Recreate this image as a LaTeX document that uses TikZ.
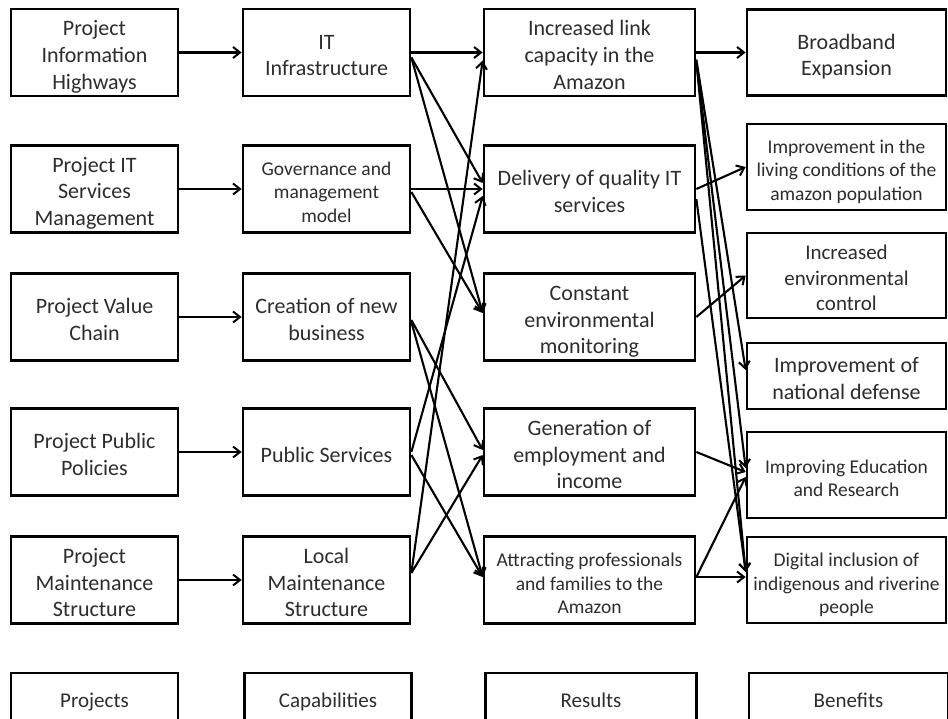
\documentclass[tikz,border=0pt]{standalone}
\usepackage{fontspec}
\setmainfont{Carlito}
\usetikzlibrary{arrows.meta,calc}
\definecolor{txt}{RGB}{45,45,45}
\newcommand\fbig{\fontsize{22}{26.7}\selectfont}
\newcommand\fsmall{\fontsize{19.5}{23.5}\selectfont}
\newcommand\up{\rule{0pt}{25pt}}
\newcommand\uplab{\rule{0pt}{19pt}}
\begin{document}
\begin{tikzpicture}[x=1pt,y=-1pt,
  box/.style={draw=black, line width=2.7pt, fill=white, rectangle, align=center,
    inner sep=0pt, text=txt, font=\fbig, text depth=5pt},
  c1/.style={box, minimum width=167pt, minimum height=87pt},
  c3/.style={box, minimum width=211pt, minimum height=87pt},
  c4/.style={box, minimum width=199pt, minimum height=86pt},
  sm/.style={font=\fsmall},
  lab/.style={minimum height=54pt, font=\fontsize{21}{25}\selectfont},
  arr/.style={draw=black, line width=2.1pt, -{Straight Barb[length=7pt,width=11pt,line width=2pt]}}
]
\useasboundingbox (0,0) rectangle (948,719);
\clip (0,0) rectangle (948,719);
\fill[white] (0,0) rectangle (948,719);

% Projects
\node[c1] (p1) at (94.5,52.5) {\up Project\\Information\\Highways};
\node[c1] (p2) at (94.5,189) {\up Project IT\\Services\\Management};
\node[c1] (p3) at (94.5,317) {\up Project Value\\Chain};
\node[c1] (p4) at (94.5,452) {\up Project Public\\Policies};
\node[c1] (p5) at (94.5,580) {\up Project\\Maintenance\\Structure};

% Capabilities
\node[c1] (it)  at (326.5,52.5) {\up IT\\Infrastructure};
\node[c1,sm] (gov) at (326.5,189) {\up Governance and\\management\\model};
\node[c1] (cre) at (326.5,317) {\up Creation of new\\business};
\node[c1] (ps)  at (326.5,452) {\up Public Services};
\node[c1] (lm)  at (326.5,580) {\up Local\\Maintenance\\Structure};

% Results
\node[c3] (il)  at (589.5,52.5) {\up Increased link\\capacity in the\\Amazon};
\node[c3] (del) at (589.5,189) {\up Delivery of quality IT\\services};
\node[c3] (cem) at (589.5,317) {\up Constant\\environmental\\monitoring};
\node[c3] (gen) at (589.5,452) {\up Generation of\\employment and\\income};
\node[c3,sm] (att) at (589.5,580) {\up Attracting professionals\\and families to the\\Amazon};

% Benefits
\node[c4] (bb)  at (846.5,52.5) {\up Broadband\\Expansion};
\node[c4,sm] (liv) at (846.5,167) {\up Improvement in the\\living conditions of the\\amazon population};
\node[c4,minimum height=85pt,font=\fontsize{21}{25.5}\selectfont] (env) at (846.5,275.5) {\up Increased\\environmental\\control};
\node[c4,minimum height=66pt] (nd)  at (846.5,376) {\up Improvement of\\national defense};
\node[c4,sm] (edu) at (846.5,475) {\up Improving Education\\and Research};
\node[c4,sm] (dig) at (846.5,580) {\up Digital inclusion of\\indigenous and riverine\\people};

% Column labels
\node[c1,lab] (lp) at (94.5,700) {\uplab Projects};
\node[c1,lab] (lc) at (328,700) {\uplab Capabilities};
\node[c3,lab] (lr) at (591,700) {\uplab Results};
\node[c4,lab] (lb) at (848.5,700) {\uplab Benefits};

% Projects -> Capabilities
\draw[arr] (p1.east) -- (it.west);
\draw[arr] (p2.east) -- (gov.west);
\draw[arr] (p3.east) -- (cre.west);
\draw[arr] (p4.east) -- (ps.west);
\draw[arr] (p5.east) -- (lm.west);

% Capabilities -> Results
\draw[arr] (it.east) -- (il.west);
\draw[arr] ($(it.east)+(0,5)$) -- ($(del.west)+(0,-6)$);
\draw[arr] ($(it.east)+(0,5)$) -- ($(cem.west)+(0,-4)$);
\draw[arr] (gov.east) -- (del.west);
\draw[arr] ($(gov.east)+(0,3)$) -- ($(cem.west)+(0,-4)$);
\draw[arr] ($(cre.east)+(0,3)$) -- ($(gen.west)+(0,-2)$);
\draw[arr] ($(cre.east)+(0,5)$) -- ($(att.west)+(0,-3)$);
\draw[arr] (ps.east) -- ($(del.west)+(0,7)$);
\draw[arr] ($(ps.east)+(0,3)$) -- ($(att.west)+(0,-3)$);
\draw[arr] ($(lm.east)+(0,-7)$) -- ($(il.west)+(0,8)$);
\draw[arr] ($(lm.east)+(0,-7)$) -- ($(gen.west)+(0,3)$);

% Results -> Benefits
\draw[arr] (il.east) -- (bb.west);
\draw[arr] ($(il.east)+(0,7)$) -- ($(nd.west)+(0,-6)$);
\draw[arr] ($(il.east)+(0,9)$) -- ($(edu.west)+(0,-7)$);
\draw[arr] ($(il.east)+(0,9)$) -- ($(dig.west)+(0,-8)$);
\draw[arr] (del.east) -- (liv.west);
\draw[arr] ($(del.east)+(0,10)$) -- ($(dig.west)+(0,-8)$);
\draw[arr] (cem.east) -- (env.west);
\draw[arr] (gen.east) -- ($(edu.west)+(0,-3)$);
\draw[arr] ($(att.east)+(0,-3)$) -- ($(edu.west)+(0,2)$);
\draw[arr] ($(att.east)+(0,-3)$) -- ($(dig.west)+(0,-3)$);
\end{tikzpicture}
\end{document}
